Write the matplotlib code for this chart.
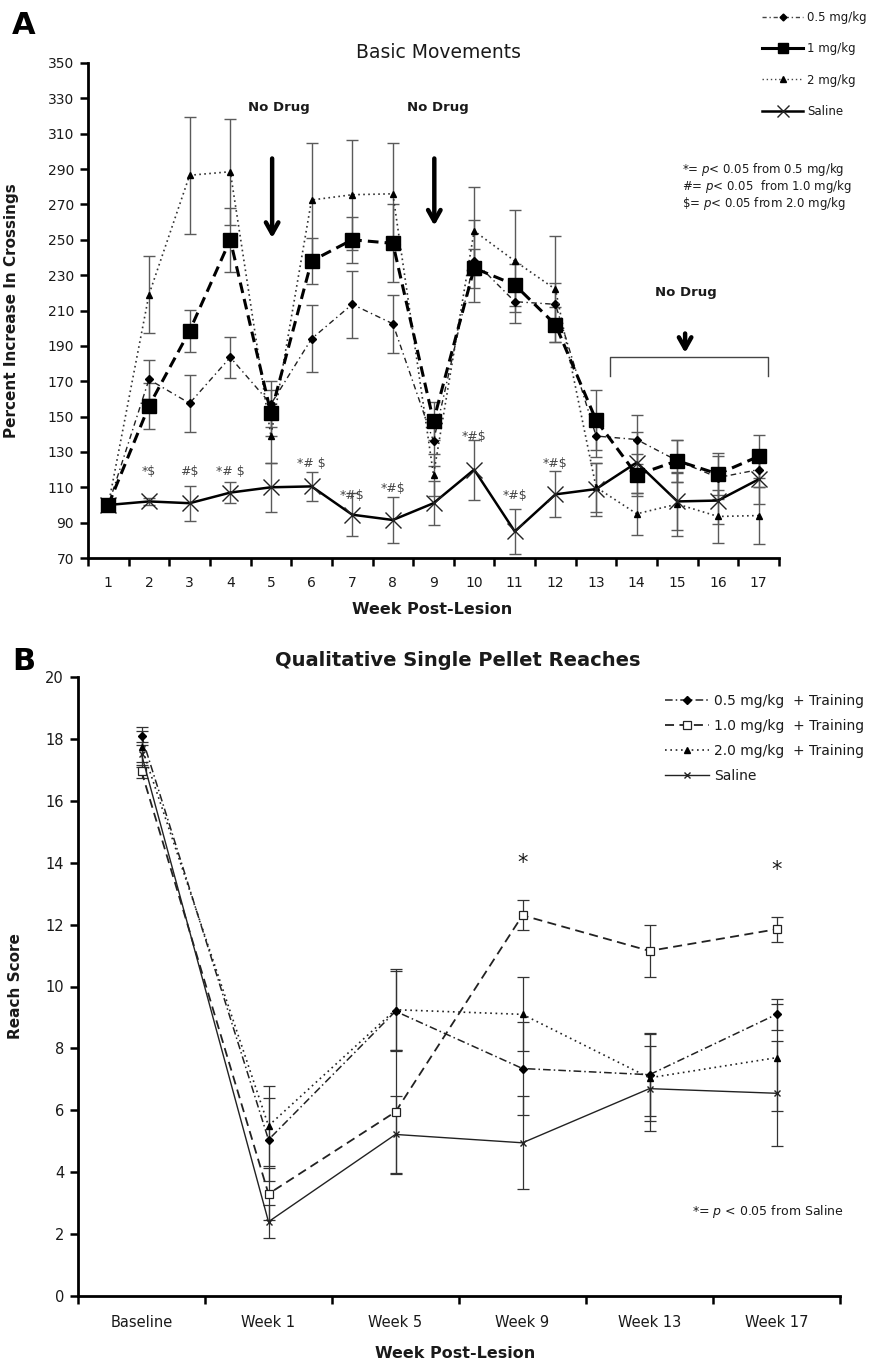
import matplotlib
matplotlib.use("Agg")
import matplotlib.pyplot as plt
import numpy as np
from matplotlib.lines import Line2D

# ---------------- Panel A data ----------------
weeks_A = list(range(1, 18))
mg05_A = [100, 171, 157.5, 183.5, 157, 194, 213.5, 202.5, 136, 238, 215, 213.5, 139, 137, 125, 115.5, 120]
mg05_err = [0, 11, 16, 11.5, 13, 19, 19, 16.5, 14, 23, 12, 12, 12, 14, 12, 12, 10]
mg1_A = [100, 156, 198.5, 250, 152, 238, 250, 248, 147.5, 234, 224.5, 202, 148, 117, 125, 117.5, 127.5]
mg1_err = [0, 13, 12, 18, 13, 13, 13, 22, 11, 11, 12, 10, 17, 12, 12, 12, 12]
mg2_A = [100, 219, 286.5, 288.5, 139, 272.5, 275.5, 276, 117, 255, 238, 222, 110, 95, 100.5, 93.5, 94]
mg2_err = [0, 22, 33, 30, 15, 32, 31, 29, 12, 25, 29, 30, 14, 12, 18, 15, 16]
sal_A = [100, 102, 101, 107, 110, 110.5, 94.5, 91.5, 101, 120, 85, 106, 109, 124, 102, 102.5, 114.5]
sal_err = [0, 2, 10, 6, 14, 8, 12, 13, 12.5, 17, 12.5, 13, 15, 17, 16, 13, 14]

sig_weeks = [2, 3, 4, 6, 7, 8, 10, 11, 12]
sig_texts = ["*$", "#$", "*# $", "*# $", "*#$", "*#$", "*#$", "*#$", "*#$"]
sig_y = [119, 119, 119, 123.5, 105.5, 109.5, 138.5, 105.5, 123.5]

nodrug_x = [5.2, 9.1, 15.2]
nodrug_y = [325, 325, 220]
arrow_x = [5.03, 9.02, 15.19]
arrow_top = [296, 296, 197]
arrow_tip = [251, 258, 186]
bracket_weeks = [13.35, 17.23]
bracket_y = [173, 183.7]

# ---------------- Panel B data ----------------
cats_B = ["Baseline", "Week 1", "Week 5", "Week 9", "Week 13", "Week 17"]
b05 = [18.1, 5.05, 9.2, 7.35, 7.15, 9.1]
b05_err = [0.3, 1.35, 1.3, 1.5, 1.35, 0.5]
b10 = [16.95, 3.3, 5.95, 12.3, 11.15, 11.85]
b10_err = [0.2, 0.85, 2.0, 0.48, 0.85, 0.4]
b20 = [17.75, 5.5, 9.25, 9.1, 7.05, 7.7]
b20_err = [0.5, 1.3, 1.3, 1.2, 1.4, 1.73]
bsal = [17.5, 2.4, 5.22, 4.95, 6.7, 6.55]
bsal_err = [0.4, 0.53, 1.25, 1.5, 1.38, 1.7]
star_idx = [3, 5]
star_y = [14.0, 13.75]

W, H = 875, 1361
fig = plt.figure(figsize=(W / 100, H / 100), dpi=100)
plt.rcParams['font.family'] = ['DejaVu Sans']

def fx(px):
    return px / W

def fy(py):
    return 1 - py / H

TXT = '#1a1a1a'

# ================= Panel A =================
axA = fig.add_axes([fx(88), fy(558), fx(779 - 88), (558 - 63) / H])
xA = np.array(weeks_A)
ebc = '#5a5a5a'
for vals, errs in [(mg05_A, mg05_err), (mg1_A, mg1_err), (mg2_A, mg2_err), (sal_A, sal_err)]:
    axA.errorbar(xA, vals, yerr=errs, fmt='none', ecolor=ebc, elinewidth=1.0,
                 capsize=4, capthick=1.0, zorder=2)

axA.plot(xA, mg05_A, color='#222222', lw=1.0, linestyle=(0, (4, 2.5, 1, 2.5)),
         marker='D', ms=4, mfc='black', mec='black', zorder=3)
axA.plot(xA, mg1_A, color='black', lw=2.2, linestyle=(0, (3.5, 2)),
         marker='s', ms=10, mfc='black', mec='black', zorder=4)
axA.plot(xA, mg2_A, color='#333333', lw=1.2, linestyle=(0, (1, 2)),
         marker='^', ms=5, mfc='black', mec='black', zorder=3)
axA.plot(xA, sal_A, color='black', lw=1.8, linestyle='-',
         marker='x', ms=11, mew=1.0, mec='#222222', zorder=3)

axA.set_xlim(0.5, 17.5)
axA.set_ylim(70, 350)
axA.set_yticks(np.arange(70, 351, 20))
axA.set_xticks(xA)
axA.set_xticks(np.arange(0.5, 17.6, 1), minor=True)
axA.tick_params(axis='x', which='major', length=0, pad=13, labelsize=10, labelcolor=TXT)
axA.tick_params(axis='x', which='minor', length=6, width=1.8, direction='out')
axA.tick_params(axis='y', which='major', length=6, width=1.8, direction='out', labelsize=10,
                labelcolor=TXT, pad=4)
for s in ['top', 'right']:
    axA.spines[s].set_visible(False)
for s in ['left', 'bottom']:
    axA.spines[s].set_linewidth(2.0)

axA.set_ylabel('Percent Increase In Crossings', fontsize=11, fontweight='bold', color=TXT)
axA.yaxis.set_label_coords((19 - 88) / 691, 0.5)
axA.set_xlabel('Week Post-Lesion', fontsize=11.5, fontweight='bold', color=TXT)
axA.xaxis.set_label_coords(0.498, (558 - 602) / 495)

for wk, t, yv in zip(sig_weeks, sig_texts, sig_y):
    axA.text(wk, yv, t, ha='center', va='center', fontsize=9, color='#444444')

for xx, yy in zip(nodrug_x, nodrug_y):
    axA.text(xx, yy, 'No Drug', ha='center', va='center', fontsize=9.5, fontweight='bold', color=TXT)
for xx, y0, y1 in zip(arrow_x, arrow_top, arrow_tip):
    axA.annotate('', xy=(xx, y1), xytext=(xx, y0),
                 arrowprops=dict(arrowstyle='->,head_width=0.45,head_length=0.8', lw=3.2,
                                 color='black', shrinkA=0, shrinkB=0))
axA.plot([bracket_weeks[0], bracket_weeks[0], bracket_weeks[1], bracket_weeks[1]],
         [bracket_y[0], bracket_y[1], bracket_y[1], bracket_y[0]], color='#444444', lw=1.0)

# legend proxies (styles as drawn in the reference legend)
hA = [Line2D([], [], color='#444444', lw=1.0, linestyle=(0, (3, 2, 1, 2)), marker='D', ms=3.5,
             mfc='black', mec='black'),
      Line2D([], [], color='black', lw=2.2, linestyle='-', marker='s', ms=7, mfc='black', mec='black'),
      Line2D([], [], color='#444444', lw=1.0, linestyle=(0, (1, 2)), marker='^', ms=4.5,
             mfc='black', mec='black'),
      Line2D([], [], color='black', lw=1.8, linestyle='-', marker='x', ms=8, mew=1.0, mec='#222222')]
legA = fig.legend(handles=hA, labels=['0.5 mg/kg', '1 mg/kg', '2 mg/kg', 'Saline'], loc='upper left',
                  bbox_to_anchor=(fx(762), fy(11)), bbox_transform=fig.transFigure,
                  frameon=False, fontsize=8.5, handlelength=3.5, handletextpad=0.35,
                  labelspacing=1.55, borderpad=0, borderaxespad=0, numpoints=1)
for t in legA.get_texts():
    t.set_color(TXT)

fig.text(fx(438), fy(52), 'Basic Movements', ha='center', va='center', fontsize=13.5, color=TXT)
fig.text(fx(24), fy(25), 'A', ha='center', va='center', fontsize=22, fontweight='bold')
stats = [r"*= $p$< 0.05 from 0.5 mg/kg", r"#= $p$< 0.05  from 1.0 mg/kg", r"$\$$= $p$< 0.05 from 2.0 mg/kg"]
for i, s in enumerate(stats):
    fig.text(fx(682), fy(170 + 16.5 * i), s, ha='left', va='center', fontsize=8.5, color=TXT)

# ================= Panel B =================
axB = fig.add_axes([fx(78), fy(1296), fx(840 - 78), (1296 - 677) / H])
xB = np.arange(len(cats_B))
ebB = '#333333'
for vals, errs in [(b05, b05_err), (b10, b10_err), (b20, b20_err), (bsal, bsal_err)]:
    axB.errorbar(xB, vals, yerr=errs, fmt='none', ecolor=ebB, elinewidth=0.9,
                 capsize=4, capthick=0.9, zorder=2)
k05, = axB.plot(xB, b05, color='#222222', lw=1.1, linestyle=(0, (5, 2, 1, 2)),
                marker='D', ms=4.5, mfc='black', mec='black', zorder=3, label='0.5 mg/kg  + Training')
k10, = axB.plot(xB, b10, color='#222222', lw=1.3, linestyle=(0, (5, 3)),
                marker='s', ms=6, mfc='white', mec='#222222', mew=0.9, zorder=3,
                label='1.0 mg/kg  + Training')
k20, = axB.plot(xB, b20, color='#222222', lw=1.2, linestyle=(0, (1, 2.2)),
                marker='^', ms=5, mfc='black', mec='black', zorder=3, label='2.0 mg/kg  + Training')
ksal, = axB.plot(xB, bsal, color='#222222', lw=1.0, linestyle='-',
                 marker='x', ms=5, mew=1.0, mec='#222222', zorder=3, label='Saline')

axB.set_xlim(-0.5, 5.5)
axB.set_ylim(0, 20)
axB.set_yticks(np.arange(0, 21, 2))
axB.set_xticks(xB)
axB.set_xticklabels(cats_B)
axB.set_xticks(np.arange(-0.5, 5.6, 1), minor=True)
axB.tick_params(axis='x', which='major', length=0, pad=14, labelsize=10.5, labelcolor=TXT)
axB.tick_params(axis='x', which='minor', length=6, width=1.8, direction='out')
axB.tick_params(axis='y', which='major', length=6, width=1.8, direction='out', labelsize=10.5,
                labelcolor=TXT, pad=4)
for s in ['top', 'right']:
    axB.spines[s].set_visible(False)
for s in ['left', 'bottom']:
    axB.spines[s].set_linewidth(2.0)

axB.set_ylabel('Reach Score', fontsize=11, fontweight='bold', color=TXT)
axB.yaxis.set_label_coords((23 - 78) / 762, 0.5)
axB.set_xlabel('Week Post-Lesion', fontsize=11.5, fontweight='bold', color=TXT)
axB.xaxis.set_label_coords(0.495, (1296 - 1346) / 619)

for i, yv in zip(star_idx, star_y):
    axB.text(xB[i], yv, '*', ha='center', va='center', fontsize=15, color=TXT)

legB = axB.legend(handles=[k05, k10, k20, ksal], loc='upper left',
                  bbox_to_anchor=(fx(665), fy(694)), bbox_transform=fig.transFigure,
                  frameon=False, fontsize=10, handlelength=3.2, handletextpad=0.35,
                  labelspacing=0.78, borderpad=0, borderaxespad=0, numpoints=1)
for t in legB.get_texts():
    t.set_color(TXT)

fig.text(fx(692), fy(1211), r"*= $p$ < 0.05 from Saline", ha='left', va='center', fontsize=9, color=TXT)
fig.text(fx(458), fy(660), 'Qualitative Single Pellet Reaches', ha='center', va='center',
         fontsize=14, fontweight='bold', color=TXT)
fig.text(fx(24), fy(662), 'B', ha='center', va='center', fontsize=22, fontweight='bold')

fig.savefig('out.png', dpi=100)
